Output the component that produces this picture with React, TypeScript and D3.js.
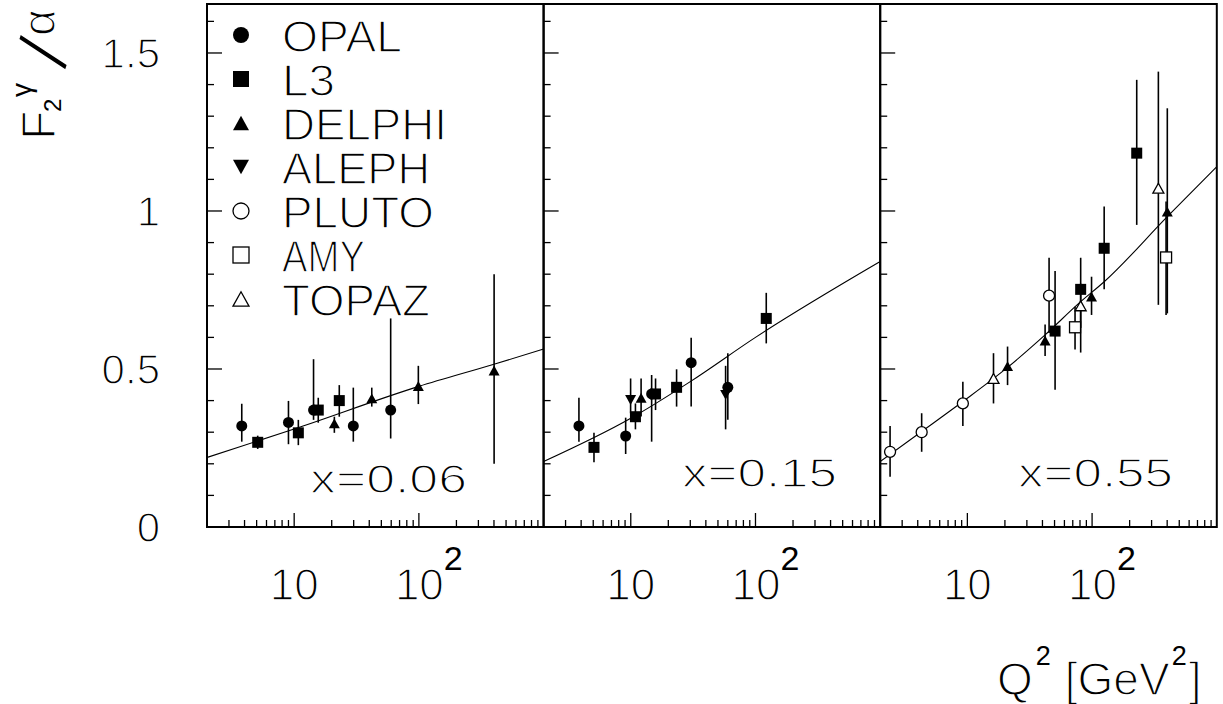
import React from "react";
import * as d3 from "d3";

const experiments = ["OPAL", "L3", "DELPHI", "ALEPH", "PLUTO", "AMY", "TOPAZ"];
const panelLabels = ["x=0.06", "x=0.15", "x=0.55"];
const yTickLabels = ["0", "0.5", "1", "1.5"];
const yTickValues = [0, 0.5, 1, 1.5];

// [experiment, Q2, F2/alpha, lower, upper]
const panel1Points: [string, number, number, number, number][] = [
  ["OPAL", 3.8, 0.32, 0.27, 0.39],
  ["L3", 5.1, 0.268, 0.247, 0.289],
  ["OPAL", 9.0, 0.331, 0.262, 0.399],
  ["L3", 10.8, 0.298, 0.259, 0.339],
  ["OPAL", 14.3, 0.37, 0.339, 0.531],
  ["L3", 15.6, 0.37, 0.33, 0.409],
  ["DELPHI", 21, 0.328, 0.298, 0.349],
  ["L3", 23, 0.4, 0.349, 0.449],
  ["OPAL", 29.8, 0.32, 0.27, 0.441],
  ["DELPHI", 41.9, 0.407, 0.381, 0.441],
  ["OPAL", 59.4, 0.37, 0.28, 0.66],
  ["DELPHI", 99, 0.446, 0.389, 0.51],
  ["DELPHI", 401, 0.495, 0.2, 0.8],
];

const panel2Points: [string, number, number, number, number][] = [
  ["OPAL", 3.84, 0.32, 0.27, 0.409],
  ["L3", 5.07, 0.252, 0.205, 0.298],
  ["OPAL", 9.1, 0.288, 0.231, 0.346],
  ["ALEPH", 9.97, 0.402, 0.36, 0.47],
  ["L3", 10.9, 0.349, 0.309, 0.391],
  ["DELPHI", 12.1, 0.409, 0.35, 0.47],
  ["OPAL", 14.7, 0.421, 0.27, 0.481],
  ["L3", 15.8, 0.421, 0.37, 0.47],
  ["L3", 23.3, 0.442, 0.381, 0.499],
  ["OPAL", 30.5, 0.52, 0.381, 0.599],
  ["ALEPH", 57.6, 0.418, 0.309, 0.51],
  ["OPAL", 60, 0.442, 0.339, 0.55],
  ["L3", 122, 0.66, 0.581, 0.741],
];

const panel3Points: [string, number, number, number, number][] = [
  ["PLUTO", 2.4, 0.238, 0.159, 0.32],
  ["PLUTO", 4.3, 0.3, 0.238, 0.36],
  ["PLUTO", 9.2, 0.391, 0.32, 0.46],
  ["TOPAZ", 16.2, 0.47, 0.391, 0.55],
  ["DELPHI", 21, 0.509, 0.449, 0.571],
  ["DELPHI", 42, 0.59, 0.541, 0.641],
  ["PLUTO", 45.2, 0.732, 0.614, 0.852],
  ["L3", 50.5, 0.62, 0.434, 0.81],
  ["AMY", 73, 0.632, 0.562, 0.697],
  ["TOPAZ", 81, 0.7, 0.63, 0.77],
  ["L3", 81, 0.752, 0.552, 0.852],
  ["DELPHI", 99, 0.729, 0.671, 0.792],
  ["L3", 125, 0.882, 0.752, 1.014],
  ["L3", 228, 1.183, 0.956, 1.415],
  ["TOPAZ", 340, 1.072, 0.703, 1.441],
  ["AMY", 392, 0.853, 0.671, 1.03],
  ["DELPHI", 401, 0.998, 0.676, 1.325],
];

// fitted curves [Q2, F2/alpha]
const curve1Q2 = [2, 10, 100, 400, 1000];
const curve1F = [0.22, 0.31, 0.445, 0.515, 0.563];
const curve2Q2 = [2, 10, 30, 100, 1000];
const curve2F = [0.207, 0.344, 0.46, 0.6, 0.84];
const curve3Q2 = [2, 4.3, 9.2, 21, 42, 81, 125, 401, 1000];
const curve3F = [0.207, 0.302, 0.397, 0.505, 0.608, 0.713, 0.776, 0.982, 1.14];

const panelPoints = [panel1Points, panel2Points, panel3Points];
const curvesQ2 = [curve1Q2, curve2Q2, curve3Q2];
const curvesF = [curve1F, curve2F, curve3F];

const W = 1223;
const H = 704;
const panelLefts = [207, 543.6, 880.2];
const panelW = 336.6;
const yTop = 4;
const yBottom = 527;
const FONT = "'Liberation Sans', Arial, sans-serif";
// thin the glyph strokes a little, like the reference's stroke font
const thin = { stroke: "#fff", strokeWidth: 1.4 } as any;
const noThin = { stroke: "none" } as any;

const yScale = d3.scaleLinear().domain([0, 1.655]).range([yBottom, yTop]);

function Marker({ exp, cx, cy, s }: { exp: string; cx: number; cy: number; s: number }) {
  const half = s / 2;
  const triH = s * 0.9;
  const up = `M${cx - half},${cy + triH / 2} L${cx + half},${cy + triH / 2} L${cx},${cy - triH / 2} Z`;
  const down = `M${cx - half},${cy - triH / 2} L${cx + half},${cy - triH / 2} L${cx},${cy + triH / 2} Z`;
  switch (exp) {
    case "OPAL":
      return <circle cx={cx} cy={cy} r={half} fill="#000" />;
    case "L3":
      return <rect x={cx - half} y={cy - half} width={s} height={s} fill="#000" />;
    case "DELPHI":
      return <path d={up} fill="#000" />;
    case "ALEPH":
      return <path d={down} fill="#000" />;
    case "PLUTO":
      return <circle cx={cx} cy={cy} r={half} fill="#fff" stroke="#000" strokeWidth={1.3} />;
    case "AMY":
      return <rect x={cx - half} y={cy - half} width={s} height={s} fill="#fff" stroke="#000" strokeWidth={1.3} />;
    case "TOPAZ":
      return <path d={up} fill="#fff" stroke="#000" strokeWidth={1.3} />;
  }
  return null;
}

function Panel({ idx }: { idx: number }) {
  const left = panelLefts[idx];
  const x = d3.scaleLog().domain([2, 1000]).range([left, left + panelW]);
  const pts = panelPoints[idx];
  const line = d3
    .line<number>()
    .x((_, i) => x(curvesQ2[idx][i]))
    .y((d) => yScale(d))
    .curve(d3.curveMonotoneX);
  const minorX: number[] = [];
  [1, 10, 100].forEach((dec) => {
    for (let m = 2; m <= 9; m++) {
      const v = m * dec;
      if (v > 2 && v < 1000) minorX.push(v);
    }
  });
  const majorX = [10, 100];
  const yMinor = d3.range(0, 17).map((i) => i / 10);
  const clipId = `clip${idx}`;
  return (
    <g>
      <defs>
        <clipPath id={clipId}>
          <rect x={left} y={yTop} width={panelW} height={yBottom - yTop} />
        </clipPath>
      </defs>
      <path d={line(curvesF[idx]) || ""} fill="none" stroke="#000" strokeWidth={1.1} clipPath={`url(#${clipId})`} />
      {pts.map((p, i) => (
        <line key={"e" + i} x1={x(p[1])} x2={x(p[1])} y1={yScale(p[3])} y2={yScale(p[4])} stroke="#000" strokeWidth={1.6} />
      ))}
      {pts.map((p, i) => (
        <Marker key={"m" + i} exp={p[0]} cx={x(p[1])} cy={yScale(p[2])} s={11} />
      ))}
      {yMinor.map((v, i) => {
        const major = Math.abs(v * 2 - Math.round(v * 2)) < 1e-6;
        return (
          <line key={"yt" + i} x1={left} x2={left + (major ? 15 : 7)} y1={yScale(v)} y2={yScale(v)} stroke="#000" strokeWidth={1.3} />
        );
      })}
      {minorX.map((v, i) => (
        <line key={"xm" + i} x1={x(v)} x2={x(v)} y1={yBottom} y2={yBottom - 7} stroke="#000" strokeWidth={1.3} />
      ))}
      {majorX.map((v, i) => (
        <line key={"xM" + i} x1={x(v)} x2={x(v)} y1={yBottom} y2={yBottom - 14} stroke="#000" strokeWidth={1.3} />
      ))}
      <rect x={left} y={yTop} width={panelW} height={yBottom - yTop} fill="none" stroke="#000" strokeWidth={2} />
      <text x={x(10)} y={600} fontSize={44} textAnchor="middle" fontFamily={FONT} {...thin}>10</text>
      <text x={x(100) - 24} y={600} fontSize={44} fontFamily={FONT} {...thin}>
        10
        <tspan fontSize={34} dy={-30} {...noThin}>2</tspan>
      </text>
    </g>
  );
}

const panelLabelPos: [number, number, number][] = [
  [310, 493, 157],
  [682, 487, 155],
  [1018, 487, 155],
];

export default function App() {
  const legendBaselines = experiments.map((_, i) => 52 + i * 44);
  const legendWidths = [120, 53, 165, 148, 152, 83, 148];
  return (
    <svg width={W} height={H} style={{ position: "absolute", left: 0, top: 0, background: "#fff" }}>
      <rect x={0} y={0} width={W} height={H} fill="#fff" />
      {[0, 1, 2].map((i) => (
        <Panel key={i} idx={i} />
      ))}
      {panelLabels.map((t, i) => (
        <text key={t} x={panelLabelPos[i][0]} y={panelLabelPos[i][1]} fontSize={40} fontFamily={FONT}
          textLength={panelLabelPos[i][2]} lengthAdjust="spacingAndGlyphs" {...thin}>{t}</text>
      ))}
      {yTickValues.map((v, i) => (
        <text key={"yl" + i} x={160} y={yScale(v)} dy="0.36em" fontSize={42} textAnchor="end" fontFamily={FONT} {...thin}>
          {yTickLabels[i]}
        </text>
      ))}
      {experiments.map((e, i) => (
        <g key={e}>
          <Marker exp={e} cx={241} cy={legendBaselines[i] - 17} s={16} />
          <text x={282} y={legendBaselines[i]} fontSize={44} fontFamily={FONT}
            textLength={legendWidths[i]} lengthAdjust="spacingAndGlyphs" {...thin}>{e}</text>
        </g>
      ))}
      <text x={997} y={695} fontSize={46} fontFamily={FONT} {...thin}>
        Q
        <tspan fontSize={27} dx={3} dy={-30} {...noThin}>2</tspan>
        <tspan dx={14} dy={30}>[GeV</tspan>
        <tspan fontSize={27} dx={2} dy={-30} {...noThin}>2</tspan>
        <tspan dx={2} dy={30}>]</tspan>
      </text>
      <text transform="translate(55,140) rotate(-90)" fontFamily={FONT} {...thin}>
        <tspan x={0} y={0} fontSize={48}>F</tspan>
        <tspan x={28} y={6} fontSize={24} {...noThin}>2</tspan>
        <tspan x={43} y={-24} fontSize={28} {...noThin}>γ</tspan>
        <tspan x={70} y={10} fontSize={74} rotate={18}>/</tspan>
        <tspan x={104} y={0} fontSize={46}>α</tspan>
      </text>
    </svg>
  );
}
